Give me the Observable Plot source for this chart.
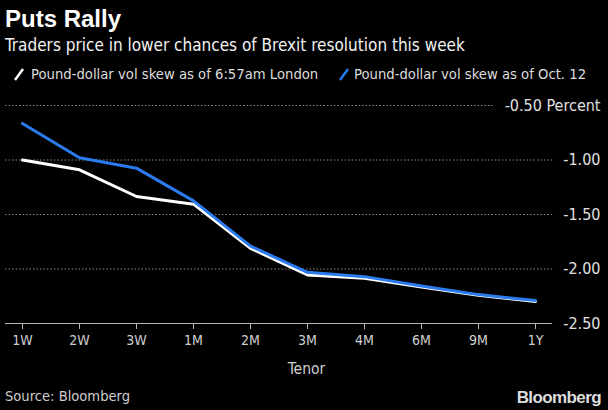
<!DOCTYPE html>
<html>
<head>
<meta charset="utf-8">
<script src="https://cdn.jsdelivr.net/npm/d3@7"></script>
<script src="https://cdn.jsdelivr.net/npm/@observablehq/plot@0.6"></script>
<style>
  html, body { margin: 0; padding: 0; background: #000; }
  body { width: 608px; height: 410px; position: relative; overflow: hidden; font-family: "Liberation Sans Narrow", "DejaVu Sans Condensed", Roboto, sans-serif; color: #fff; }
  .abs { position: absolute; white-space: nowrap; }
  #title { left: 5px; top: 6px; font-size: 24px; line-height: 26px; font-weight: bold; font-family: "Liberation Sans", Arial, sans-serif; }
  #subtitle { left: 5px; top: 35px; font-size: 17px; line-height: 20px; color: #f2f2f2; }
  #legend { left: 0; top: 64px; font-size: 14.7px; line-height: 20px; color: #ddd; }
  .item { position: absolute; top: 0; }
  .item svg { position: absolute; top: 3px; }
  .item span { position: absolute; top: 0; }
  #chart { left: 0; top: 95px; }
  #source { left: 5px; top: 386px; font-size: 14.6px; line-height: 20px; color: #ccc; }
  #logo { right: 7px; top: 388px; font-size: 17px; line-height: 20px; font-weight: bold; color: #ddd; font-family: "Liberation Sans", Arial, sans-serif; letter-spacing: -0.6px; }
</style>
</head>
<body>
<div id="title" class="abs">Puts Rally</div>
<div id="subtitle" class="abs">Traders price in lower chances of Brexit resolution this week</div>
<div id="legend" class="abs"></div>
<div id="chart" class="abs"></div>
<div id="source" class="abs">Source: Bloomberg</div>
<div id="logo" class="abs">Bloomberg</div>
<script>
const tenors = ["1W", "2W", "3W", "1M", "2M", "3M", "4M", "6M", "9M", "1Y"];
const skewNow = [-1.00, -1.09, -1.335, -1.405, -1.81, -2.055, -2.085, -2.165, -2.242, -2.298];
const skewOct12 = [-0.665, -0.98, -1.075, -1.375, -1.79, -2.03, -2.07, -2.155, -2.235, -2.29];
const seriesNames = ["Pound-dollar vol skew as of 6:57am London", "Pound-dollar vol skew as of Oct. 12"];
const seriesColors = ["#ffffff", "#2a7bef"];
const yTicks = [-0.5, -1.0, -1.5, -2.0, -2.5];
const xTitle = "Tenor";

const dataNow = tenors.map((t, i) => ({tenor: t, value: skewNow[i]}));
const dataOct = tenors.map((t, i) => ({tenor: t, value: skewOct12[i]}));

// legend
const legend = document.getElementById("legend");
const legendX = [[13, 31], [338, 354]];
seriesNames.forEach((name, i) => {
  const item = document.createElement("div");
  item.className = "item";
  item.style.left = "0px";
  item.innerHTML = `<svg width="12" height="14" style="left:${legendX[i][0]}px"><line x1="2" y1="13" x2="10" y2="2" stroke="${seriesColors[i]}" stroke-width="2.5"/></svg><span style="left:${legendX[i][1]}px">${name}</span>`;
  legend.appendChild(item);
});

const fmt = d => (d === -0.5 ? "-0.50 Percent" : d3.format(".2f")(d).replace("−", "-"));

const chart = Plot.plot({
  width: 608,
  height: 290,
  marginTop: 10,
  marginBottom: 62,
  marginLeft: 5,
  marginRight: 56,
  style: {background: "transparent", fontFamily: "'Liberation Sans Narrow', 'DejaVu Sans Condensed', Roboto, sans-serif"},
  x: {type: "point", domain: tenors, padding: 0.29},
  y: {domain: [-2.5, -0.5]},
  marks: [
    Plot.ruleY(yTicks.filter(d => d !== -0.5 && d !== -2.5), {stroke: "#8a8a8a", strokeDasharray: "1.5,2", strokeWidth: 1}),
    Plot.ruleY(yTicks.filter(d => d === -0.5), {stroke: "#8a8a8a", strokeDasharray: "1.5,2", strokeWidth: 1, insetRight: 57}),
    Plot.ruleY([-2.5], {stroke: "#b5b5b5", strokeWidth: 1}),
    Plot.axisX({tickSize: 6, tickPadding: 6, stroke: "#b5b5b5", fill: "#cfcfcf", fontSize: 14, label: null}),
    Plot.axisY({anchor: "right", ticks: yTicks, tickSize: 0, tickFormat: fmt, textAnchor: "end", dx: 39, fill: "#e0e0e0", fontSize: 16, label: null}),
    Plot.text([xTitle], {frameAnchor: "bottom", dx: 27.5, dy: 50, fill: "#cfcfcf", fontSize: 15.5}),
    Plot.line(dataNow, {x: "tenor", y: "value", stroke: seriesColors[0], strokeWidth: 3}),
    Plot.line(dataOct, {x: "tenor", y: "value", stroke: seriesColors[1], strokeWidth: 3})
  ]
});
document.getElementById("chart").appendChild(chart);
</script>
</body>
</html>
